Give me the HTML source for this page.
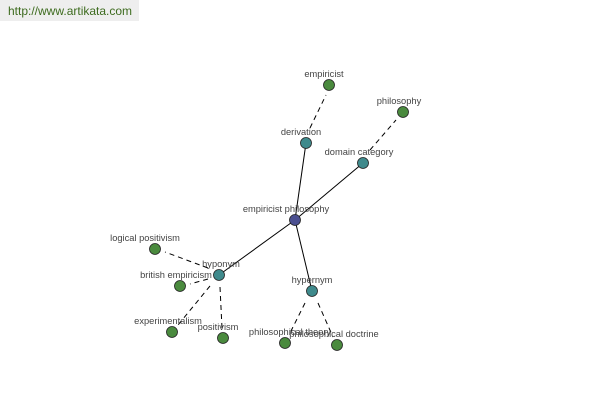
<!DOCTYPE html>
<html><head><style>
body{margin:0;width:600px;height:400px;background:#fff;overflow:hidden;position:relative;font-family:"Liberation Sans",sans-serif}
.hdr{position:absolute;left:0;top:0;width:139px;height:21px;background:#eeeeee;color:#3d6b1e;font-size:12px;line-height:22px;padding-left:8px;box-sizing:border-box}
svg{position:absolute;left:0;top:0}
text{font-family:"Liberation Sans",sans-serif;font-size:9.3px;fill:#444;text-anchor:middle}
</style></head><body>
<div class="hdr">http://www.artikata.com</div>
<svg width="600" height="400">
<g stroke="#000" stroke-width="1">
<line x1="295" y1="220" x2="306" y2="143"/>
<line x1="295" y1="220" x2="363" y2="163"/>
<line x1="295" y1="220" x2="219" y2="275"/>
<line x1="295" y1="220" x2="312" y2="291"/>
</g>
<g stroke="#000" stroke-width="1" stroke-dasharray="5,4">
<line x1="310" y1="128" x2="326" y2="95"/>
<line x1="370" y1="150" x2="396" y2="120"/>
<line x1="208" y1="268" x2="165" y2="252"/>
<line x1="208" y1="279" x2="190" y2="284"/>
<line x1="210" y1="286" x2="178" y2="325"/>
<line x1="220" y1="287" x2="222" y2="328"/>
<line x1="305" y1="303" x2="289" y2="335"/>
<line x1="318" y1="303" x2="333" y2="337"/>
</g>
<g stroke="#222" stroke-width="0.8">
<circle cx="295" cy="220" r="5.5" fill="#4b4f90"/>
<circle cx="306" cy="143" r="5.5" fill="#3f8a8c"/>
<circle cx="363" cy="163" r="5.5" fill="#3f8a8c"/>
<circle cx="219" cy="275" r="5.5" fill="#3f8a8c"/>
<circle cx="312" cy="291" r="5.5" fill="#3f8a8c"/>
<circle cx="329" cy="85" r="5.5" fill="#4a8a3e"/>
<circle cx="403" cy="112" r="5.5" fill="#4a8a3e"/>
<circle cx="155" cy="249" r="5.5" fill="#4a8a3e"/>
<circle cx="180" cy="286" r="5.5" fill="#4a8a3e"/>
<circle cx="172" cy="332" r="5.5" fill="#4a8a3e"/>
<circle cx="223" cy="338" r="5.5" fill="#4a8a3e"/>
<circle cx="285" cy="343" r="5.5" fill="#4a8a3e"/>
<circle cx="337" cy="345" r="5.5" fill="#4a8a3e"/>
</g>
<text x="286" y="212">empiricist philosophy</text>
<text x="301" y="135">derivation</text>
<text x="359" y="155">domain category</text>
<text x="221" y="267">hyponym</text>
<text x="312" y="283">hypernym</text>
<text x="324" y="77">empiricist</text>
<text x="399" y="104">philosophy</text>
<text x="145" y="241">logical positivism</text>
<text x="176" y="278">british empiricism</text>
<text x="168" y="324">experimentalism</text>
<text x="218" y="330">positivism</text>
<text x="290" y="335">philosophical theory</text>
<text x="334" y="337">philosophical doctrine</text>
</svg>
</body></html>
